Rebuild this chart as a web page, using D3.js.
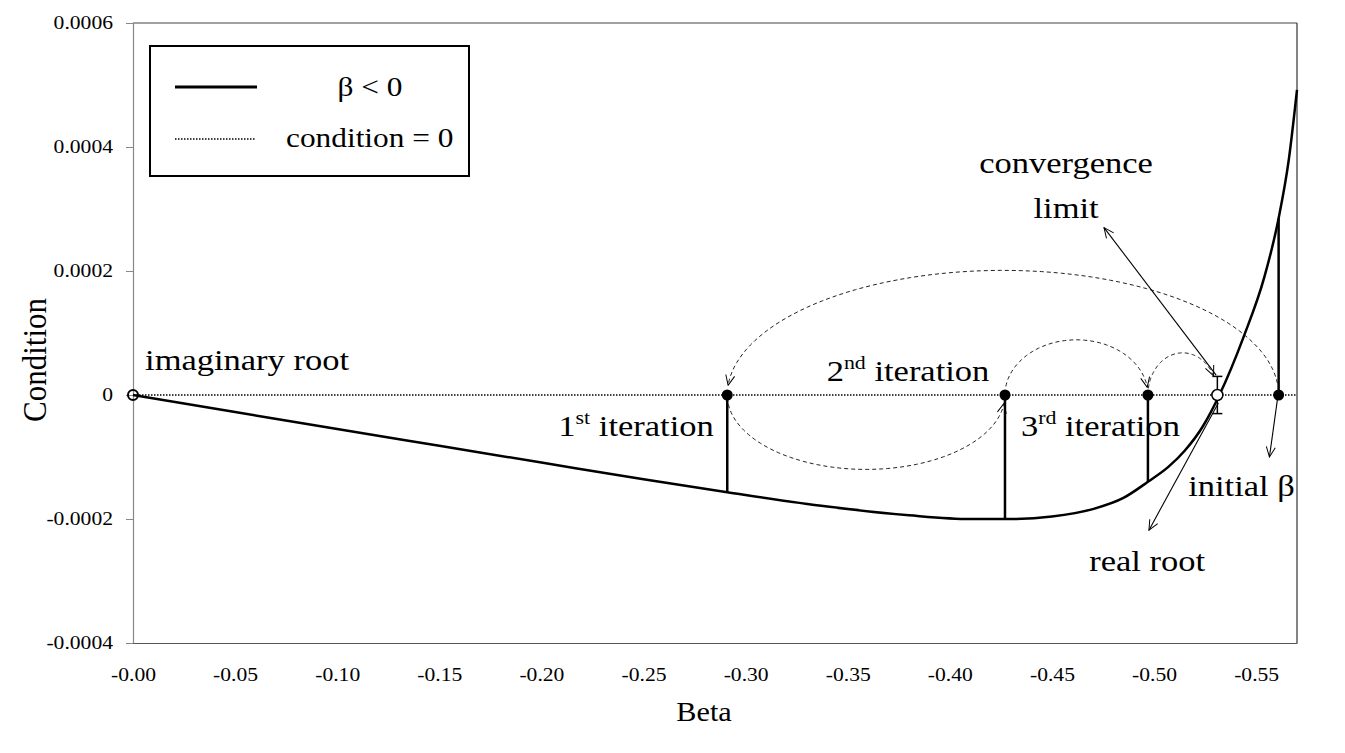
<!DOCTYPE html>
<html><head><meta charset="utf-8">
<script src="https://cdn.jsdelivr.net/npm/d3@7"></script>
<style>
body{margin:0;background:#fff}
text{font-family:"Liberation Serif","Times New Roman",serif;fill:#000}
</style>
</head><body>
<svg id="c" width="1345" height="753"></svg>
<script>
// ---------- data ----------
const curveBeta = [0, -0.05, -0.10, -0.15, -0.20, -0.25, -0.291, -0.34, -0.38, -0.41, -0.43, -0.45, -0.47, -0.485, -0.497, -0.507, -0.515, -0.524, -0.532, -0.544, -0.554, -0.561, -0.566, -0.57];
const curveCond = [0, -0.0000275, -0.000055, -0.000082, -0.000109, -0.000136, -0.000157, -0.000180, -0.000194, -0.000200, -0.000200, -0.000196, -0.000184, -0.000166, -0.000140, -0.000116, -0.000090, -0.000050, 0, 0.000095, 0.000190, 0.000285, 0.000380, 0.000492];

const xTickValues = [0, -0.05, -0.10, -0.15, -0.20, -0.25, -0.30, -0.35, -0.40, -0.45, -0.50, -0.55];
const xTickLabels = ["-0.00", "-0.05", "-0.10", "-0.15", "-0.20", "-0.25", "-0.30", "-0.35", "-0.40", "-0.45", "-0.50", "-0.55"];
const yTickValues = [0.0006, 0.0004, 0.0002, 0, -0.0002, -0.0004];
const yTickLabels = ["0.0006", "0.0004", "0.0002", "0", "-0.0002", "-0.0004"];

// iteration points: 1st, 2nd, 3rd, initial beta
const iterBeta = [-0.291, -0.427, -0.497, -0.561];
const iterCond = [-0.000157, -0.000200, -0.000140, 0.000285];
const rootBeta = -0.531;
const rootErr = 0.00003;
const imagRootBeta = 0;

// dashed iteration arcs (from -> to, extreme value of the arc)
const arcFrom = [-0.561, -0.291, -0.427, -0.497];
const arcTo   = [-0.291, -0.427, -0.497, -0.531];
const arcPeak = [0.000201, -0.000120, 0.000089, 0.000068];

// pointer arrows (from -> to)
const ptrFromBeta = [-0.5304, -0.5315, -0.5605];
const ptrFromCond = [0.000032, -0.000013, -0.000005];
const ptrToBeta   = [-0.4755, -0.4975, -0.5565];
const ptrToCond   = [0.000270, -0.000218, -0.000100];

// ---------- layout ----------
const svg = d3.select("#c");
const L = 133, R = 1297, T = 23, B = 643;
const x = d3.scaleLinear().domain([0, -0.57]).range([L, R]);
const y = d3.scaleLinear().domain([-0.0004, 0.0006]).range([B, T]);
const SX = 1.2, AX = 1.15;

const defs = svg.append("defs");
defs.append("marker").attr("id", "arr").attr("viewBox", "0 0 12 12")
  .attr("refX", 11).attr("refY", 6).attr("markerWidth", 12).attr("markerHeight", 12)
  .attr("markerUnits", "userSpaceOnUse").attr("orient", "auto")
  .append("path").attr("d", "M1,1.5 L11,6 L1,10.5").attr("fill", "none").attr("stroke", "#000").attr("stroke-width", 1);

// frame
svg.append("line").attr("x1", L).attr("x2", R).attr("y1", T).attr("y2", T).attr("stroke", "#444").attr("stroke-width", 1.2);
svg.append("line").attr("x1", R).attr("x2", R).attr("y1", T).attr("y2", B).attr("stroke", "#333").attr("stroke-width", 1.2);

// axes
const yAxis = svg.append("g").attr("transform", `translate(${L},0)`)
  .call(d3.axisLeft(y).tickValues(yTickValues).tickFormat((d, i) => yTickLabels[i]).tickSizeOuter(0).tickSize(7));
yAxis.select(".domain").attr("stroke", "#888").attr("stroke-width", 1.2);
yAxis.selectAll(".tick line").attr("stroke", "#888");
yAxis.selectAll(".tick text").attr("x", 0).attr("dy", "0.32em")
  .attr("transform", `translate(-20,0) scale(${SX},1)`)
  .style("font-family", '"Liberation Serif",serif').style("font-size", "18px").attr("fill", "#000");

const xAxis = svg.append("g").attr("transform", `translate(0,${B})`)
  .call(d3.axisBottom(x).tickValues(xTickValues).tickFormat((d, i) => xTickLabels[i]).tickSizeOuter(0).tickSize(0));
xAxis.select(".domain").attr("stroke", "#555").attr("stroke-width", 1.2);
xAxis.selectAll(".tick text").attr("y", 0).attr("dy", 0)
  .attr("transform", `translate(0,38) scale(${SX},1)`)
  .style("font-family", '"Liberation Serif",serif').style("font-size", "18px").attr("fill", "#000");

// axis titles
svg.append("text").attr("transform", `translate(704,721) scale(1.12,1)`).attr("text-anchor", "middle")
  .style("font-size", "27px").text("Beta");
svg.append("text").attr("transform", `translate(46,360) rotate(-90) scale(1,1.1)`).attr("text-anchor", "middle")
  .style("font-size", "31px").text("Condition");

// zero line
svg.append("line").attr("x1", x(0)).attr("x2", R).attr("y1", y(0)).attr("y2", y(0))
  .attr("stroke", "#000").attr("stroke-width", 1.5).attr("stroke-dasharray", "1.5,1.5");

// curve
const pts = curveBeta.map((b, i) => [b, curveCond[i]]);
svg.append("path").datum(pts)
  .attr("d", d3.line().x(d => x(d[0])).y(d => y(d[1])).curve(d3.curveMonotoneX))
  .attr("fill", "none").attr("stroke", "#000").attr("stroke-width", 2.5);

// stems
svg.selectAll(".stem").data(iterBeta).join("line")
  .attr("x1", d => x(d)).attr("x2", d => x(d))
  .attr("y1", y(0)).attr("y2", (d, i) => y(iterCond[i]))
  .attr("stroke", "#000").attr("stroke-width", 2.5);

// dashed arcs
const trimS = [0.03, 0.04, 0.05, 0.05], trimE = [0.975, 0.965, 0.955, 0.85];
arcFrom.forEach((a, i) => {
  const xa = x(a), xb = x(arcTo[i]), y0 = y(0), yp = y(arcPeak[i]);
  const ss = d3.range(trimS[i], trimE[i] + 1e-9, (trimE[i] - trimS[i]) / 80);
  const p = ss.map(s => [xa + (xb - xa) * (1 - Math.cos(Math.PI * s)) / 2, y0 + (yp - y0) * Math.sin(Math.PI * s)]);
  svg.append("path").attr("d", d3.line()(p)).attr("fill", "none")
    .attr("stroke", "#222").attr("stroke-width", 1).attr("stroke-dasharray", "4,3")
    .attr("marker-end", "url(#arr)");
});

// pointer arrows
ptrFromBeta.forEach((b, i) => {
  svg.append("line").attr("x1", x(b)).attr("y1", y(ptrFromCond[i]))
    .attr("x2", x(ptrToBeta[i])).attr("y2", y(ptrToCond[i]))
    .attr("stroke", "#000").attr("stroke-width", 1.1).attr("marker-end", "url(#arr)");
});

// error bar at real root
const eb = svg.append("g").attr("stroke", "#000").attr("stroke-width", 1.5);
eb.append("line").attr("x1", x(rootBeta)).attr("x2", x(rootBeta)).attr("y1", y(rootErr)).attr("y2", y(-rootErr));
[rootErr, -rootErr].forEach(v => eb.append("line").attr("x1", x(rootBeta) - 5).attr("x2", x(rootBeta) + 5).attr("y1", y(v)).attr("y2", y(v)));

// points
svg.selectAll(".dot").data(iterBeta).join("circle")
  .attr("cx", d => x(d)).attr("cy", y(0)).attr("r", 5.5).attr("fill", "#000");
svg.append("circle").attr("cx", x(rootBeta)).attr("cy", y(0)).attr("r", 5.5)
  .attr("fill", "#fff").attr("stroke", "#000").attr("stroke-width", 1.5);
svg.append("circle").attr("cx", x(imagRootBeta)).attr("cy", y(0)).attr("r", 5)
  .attr("fill", "none").attr("stroke", "#000").attr("stroke-width", 2);

// annotations
function anno(b, c, anchor, parts) {
  const t = svg.append("text").attr("transform", `translate(${x(b)},${y(c)}) scale(${AX},1)`)
    .attr("text-anchor", anchor).style("font-size", "30px");
  parts.forEach(p => {
    if (p.sup) t.append("tspan").attr("dy", -12).style("font-size", "19px").text(p.sup);
    else t.append("tspan").attr("dy", p.after ? 12 : 0).text(p.t);
  });
}
anno(-0.0059, 0.0000403, "start", [{t: "imaginary root"}]);
anno(-0.2083, -0.0000661, "start", [{t: "1"}, {sup: "st"}, {t: "\u00a0iteration", after: true}]);
anno(-0.3397, 0.0000226, "start", [{t: "2"}, {sup: "nd"}, {t: "\u00a0iteration", after: true}]);
anno(-0.4348, -0.0000661, "start", [{t: "3"}, {sup: "rd"}, {t: "\u00a0iteration", after: true}]);
anno(-0.4569, 0.000358, "middle", [{t: "convergence"}]);
anno(-0.4569, 0.0002855, "middle", [{t: "limit"}]);
anno(-0.5167, -0.0001629, "start", [{t: "initial \u03b2"}]);
anno(-0.4966, -0.0002839, "middle", [{t: "real root"}]);

// legend
const lg = svg.append("g");
lg.append("rect").attr("x", 150).attr("y", 46).attr("width", 319).attr("height", 130)
  .attr("fill", "#fff").attr("stroke", "#000").attr("stroke-width", 2);
lg.append("line").attr("x1", 175).attr("x2", 257).attr("y1", 87).attr("y2", 87).attr("stroke", "#000").attr("stroke-width", 3);
lg.append("line").attr("x1", 175).attr("x2", 255).attr("y1", 139).attr("y2", 139)
  .attr("stroke", "#000").attr("stroke-width", 1.5).attr("stroke-dasharray", "1.5,1.5");
lg.append("text").attr("transform", "translate(370,96) scale(1.12,1)").attr("text-anchor", "middle")
  .style("font-size", "28px").text("\u03b2 < 0");
lg.append("text").attr("transform", "translate(286,147) scale(1.12,1)").attr("text-anchor", "start")
  .style("font-size", "28px").text("condition = 0");
</script>
</body></html>
